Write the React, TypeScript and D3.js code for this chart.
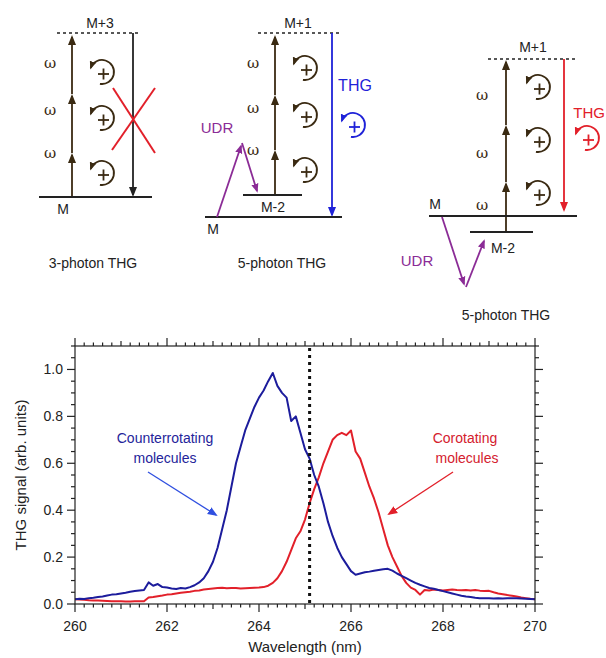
// @ts-nocheck
import React from "react";
import * as d3 from "d3";

// wavelength grid, 0.1 nm steps from 260 to 270
const wavelengths = d3.range(0, 101).map(i => 260 + i / 10);

// counterrotating molecules (blue)
const counterSignal = [
  0.020, 0.022, 0.021, 0.025, 0.027, 0.030, 0.032, 0.036, 0.040, 0.042,
  0.045, 0.048, 0.052, 0.055, 0.058, 0.060, 0.092, 0.078, 0.085, 0.072,
  0.070, 0.066, 0.064, 0.068, 0.066, 0.072, 0.080, 0.092, 0.110, 0.140,
  0.180, 0.240, 0.320, 0.400, 0.500, 0.600, 0.670, 0.740, 0.790, 0.840,
  0.880, 0.910, 0.950, 0.985, 0.930, 0.900, 0.880, 0.780, 0.800, 0.730,
  0.660, 0.620, 0.550, 0.500, 0.430, 0.350, 0.290, 0.240, 0.200, 0.170,
  0.140, 0.125, 0.130, 0.135, 0.138, 0.142, 0.145, 0.148, 0.150, 0.142,
  0.130, 0.120, 0.110, 0.100, 0.090, 0.082, 0.075, 0.068, 0.065, 0.060,
  0.055, 0.050, 0.045, 0.040, 0.035, 0.032, 0.030, 0.027, 0.025, 0.024,
  0.024, 0.023, 0.024, 0.023, 0.024, 0.025, 0.024, 0.023, 0.022, 0.021,
  0.020
];

// corotating molecules (red)
const coSignal = [
  0.020, 0.019, 0.018, 0.016, 0.015, 0.015, 0.014, 0.013, 0.012, 0.012,
  0.012, 0.011, 0.011, 0.012, 0.012, 0.012, 0.028, 0.030, 0.033, 0.036,
  0.040, 0.042, 0.045, 0.048, 0.050, 0.052, 0.056, 0.058, 0.062, 0.064,
  0.066, 0.068, 0.069, 0.067, 0.068, 0.068, 0.066, 0.067, 0.068, 0.069,
  0.070, 0.072, 0.078, 0.090, 0.110, 0.140, 0.180, 0.230, 0.280, 0.310,
  0.360, 0.430, 0.490, 0.540, 0.600, 0.650, 0.700, 0.720, 0.730, 0.720,
  0.740, 0.650, 0.620, 0.560, 0.500, 0.450, 0.390, 0.320, 0.250, 0.200,
  0.160, 0.120, 0.090, 0.070, 0.060, 0.040, 0.060, 0.058, 0.062, 0.060,
  0.058, 0.060, 0.062, 0.060, 0.059, 0.060, 0.058, 0.060, 0.057, 0.055,
  0.056, 0.050, 0.045, 0.042, 0.038, 0.035, 0.032, 0.028, 0.025, 0.022,
  0.020
];

const xMajorTicks = [260, 262, 264, 266, 268, 270];
const yMajorTicks = [0.0, 0.2, 0.4, 0.6, 0.8, 1.0];
const markerWavelength = 265.1;

const FONT = "'Liberation Sans', Arial, Helvetica, sans-serif";
const BLUE = "#1c1c9c";
const RED = "#e2202a";
const BROWN = "#3a2a12";
const PURPLE = "#8b2c96";
const THGBLUE = "#1f22d8";

const width = 606, height = 658;
const margin = { top: 346, right: 71, bottom: 54, left: 75 };

// ---------- energy-level diagram pieces ----------
const CircArrow = ({ cx, cy, color, r = 12, id }) => {
  const a0 = (100 * Math.PI) / 180;
  const a1 = (-160 * Math.PI) / 180;
  const x0 = cx + r * Math.cos(a0), y0 = cy + r * Math.sin(a0);
  const x1 = cx + r * Math.cos(a1), y1 = cy + r * Math.sin(a1);
  return (
    <g>
      <path
        d={`M${x0},${y0} A${r},${r} 0 1 0 ${x1},${y1}`}
        fill="none"
        stroke={color}
        strokeWidth={1.8}
        markerEnd={`url(#${id})`}
      />
      <line x1={cx - 4} x2={cx + 7} y1={cy + 2} y2={cy + 2} stroke={color} strokeWidth={1.8} />
      <line x1={cx + 1.5} x2={cx + 1.5} y1={cy - 3.5} y2={cy + 7.5} stroke={color} strokeWidth={1.8} />
    </g>
  );
};

const Arrow = ({ x1, y1, x2, y2, color, id, w = 1.8 }) => (
  <line x1={x1} y1={y1} x2={x2} y2={y2} stroke={color} strokeWidth={w} markerEnd={`url(#${id})`} />
);

const PhotonLadder = ({ x, y0, tips, labelX, labelYs, circX, circYs }) => {
  const starts = [y0, tips[0], tips[1]];
  return (
    <g>
      {tips.map((t, i) => (
        <Arrow key={i} x1={x} y1={starts[i]} x2={x} y2={t + 2} color={BROWN} id="mBrown" />
      ))}
      {labelYs.map((ly, i) => (
        <text key={"w" + i} x={labelX} y={ly + 5} fontFamily="'DejaVu Serif', serif" fontSize={15} fill={BROWN} textAnchor="middle">ω</text>
      ))}
      {circYs.map((cy, i) => (
        <CircArrow key={"c" + i} cx={circX} cy={cy} color={BROWN} id="mBrownS" />
      ))}
    </g>
  );
};

const label = (x, y, t, opts = {}) => (
  <text x={x} y={y} fontFamily={FONT} fontSize={opts.size || 14} fill={opts.color || "#222"} textAnchor={opts.anchor || "middle"}>
    {t}
  </text>
);

const Diagrams = () => (
  <g>
    {/* 3-photon THG */}
    <line x1={57} x2={138} y1={33} y2={33} stroke="#222" strokeWidth={1.5} strokeDasharray="3,3" />
    {label(100, 28, "M+3")}
    <PhotonLadder x={72} y0={197} tips={[153, 94, 35]} labelX={50} labelYs={[63, 110, 153]} circX={102} circYs={[72, 118, 173]} />
    <Arrow x1={133} y1={33} x2={133} y2={195} color="#222" id="mBlack" />
    <line x1={113} y1={88} x2={155} y2={153} stroke={RED} strokeWidth={2} />
    <line x1={155} y1={88} x2={112} y2={150} stroke={RED} strokeWidth={2} />
    <line x1={39} x2={152} y1={197} y2={197} stroke="#222" strokeWidth={2} />
    {label(63, 214, "M")}
    {label(93, 268, "3-photon THG")}

    {/* 5-photon THG (middle) */}
    <line x1={258} x2={342} y1={33} y2={33} stroke="#222" strokeWidth={1.5} strokeDasharray="3,3" />
    {label(298, 28, "M+1")}
    <PhotonLadder x={275} y0={195} tips={[150, 95, 35]} labelX={253} labelYs={[63, 108, 150]} circX={305} circYs={[68, 115, 170]} />
    <Arrow x1={332} y1={33} x2={332} y2={215} color={THGBLUE} id="mBlue" />
    {label(355, 91, "THG", { color: THGBLUE, size: 16 })}
    <CircArrow cx={353} cy={125} color={THGBLUE} id="mBlueS" />
    <line x1={243} x2={302} y1={195} y2={195} stroke="#222" strokeWidth={2} />
    {label(273, 212, "M-2")}
    <line x1={205} x2={342} y1={217} y2={217} stroke="#222" strokeWidth={2} />
    {label(213, 234, "M")}
    <Arrow x1={217} y1={217} x2={241} y2={146} color={PURPLE} id="mPurple" />
    <Arrow x1={242} y1={143} x2={257} y2={191} color={PURPLE} id="mPurple" />
    {label(217, 133, "UDR", { color: PURPLE, size: 15 })}
    {label(282, 268, "5-photon THG")}

    {/* 5-photon THG (right) */}
    <line x1={488} x2={578} y1={59} y2={59} stroke="#222" strokeWidth={1.5} strokeDasharray="3,3" />
    {label(533, 52, "M+1")}
    <PhotonLadder x={506} y0={232} tips={[182, 125, 60]} labelX={482} labelYs={[205, 153, 95]} circX={538} circYs={[87, 140, 193]} />
    <Arrow x1={564} y1={59} x2={564} y2={210} color={RED} id="mRed" />
    {label(605, 118, "THG", { color: RED, size: 15, anchor: "end" })}
    <CircArrow cx={587} cy={138} color={RED} id="mRedS" />
    <line x1={429} x2={577} y1={216} y2={216} stroke="#222" strokeWidth={2} />
    {label(435, 209, "M")}
    <line x1={470} x2={533} y1={232} y2={232} stroke="#222" strokeWidth={2} />
    {label(503, 253, "M-2")}
    <Arrow x1={442} y1={217} x2={464} y2={284} color={PURPLE} id="mPurple" />
    <Arrow x1={466} y1={287} x2={484} y2={241} color={PURPLE} id="mPurple" />
    {label(417, 266, "UDR", { color: PURPLE, size: 15 })}
    {label(506, 320, "5-photon THG")}
  </g>
);

const markerDefs = [
  ["mBrown", BROWN, 10],
  ["mBrownS", BROWN, 8],
  ["mBlack", "#222", 10],
  ["mBlue", THGBLUE, 10],
  ["mBlueS", THGBLUE, 8],
  ["mRed", RED, 10],
  ["mRedS", RED, 8],
  ["mPurple", PURPLE, 9],
  ["mArrowBlue", "#2f4fe0", 10],
  ["mArrowRed", RED, 10],
];

// ---------- spectrum chart ----------
const Spectrum = () => {
  const x = d3.scaleLinear().domain([260, 270]).range([margin.left, width - margin.right]);
  const y = d3.scaleLinear().domain([0, 1.1]).range([height - margin.bottom, margin.top]);
  const x0 = x.range()[0], x1 = x.range()[1];
  const yb = y.range()[0], yt = y.range()[1];

  const line = d3
    .line()
    .x((d, i) => x(wavelengths[i]))
    .y(d => y(d));

  const xMinor = d3.range(0, 51).map(i => 260 + i * 0.2);
  const yMinor = d3.range(0, 23).map(i => i * 0.05);
  const xLen = v => (Math.abs(v % 2) < 1e-6 ? 8 : Math.abs(Math.round(v) - v) < 1e-6 ? 5 : 3.5);
  const yLen = v => (Math.abs((v * 5) - Math.round(v * 5)) < 1e-6 ? 8 : 4);

  return (
    <g fontFamily={FONT}>
      <path d={line(coSignal)} fill="none" stroke={RED} strokeWidth={2} strokeLinejoin="round" />
      <path d={line(counterSignal)} fill="none" stroke={BLUE} strokeWidth={2} strokeLinejoin="round" />
      <line x1={x(markerWavelength)} x2={x(markerWavelength)} y1={yt + 2} y2={yb} stroke="#111" strokeWidth={3} strokeDasharray="3,4" />

      {/* frame */}
      <rect x={x0} y={yt} width={x1 - x0} height={yb - yt} fill="none" stroke="#222" strokeWidth={1.2} />

      {xMinor.map((v, i) => (
        <g key={"xt" + i} stroke="#222" strokeWidth={1.2}>
          <line x1={x(v)} x2={x(v)} y1={yb} y2={yb + xLen(v)} />
          <line x1={x(v)} x2={x(v)} y1={yt} y2={yt - xLen(v)} />
        </g>
      ))}
      {yMinor.map((v, i) => (
        <g key={"yt" + i} stroke="#222" strokeWidth={1.2}>
          <line x1={x0} x2={x0 - yLen(v)} y1={y(v)} y2={y(v)} />
          <line x1={x1} x2={x1 + yLen(v)} y1={y(v)} y2={y(v)} />
        </g>
      ))}
      {xMajorTicks.map(v => (
        <text key={"xl" + v} x={x(v)} y={yb + 27} fontSize={14} textAnchor="middle" fill="#222">{v}</text>
      ))}
      {yMajorTicks.map(v => (
        <text key={"yl" + v} x={x0 - 12} y={y(v) + 5} fontSize={14} textAnchor="end" fill="#222">{v.toFixed(1)}</text>
      ))}
      <text x={(x0 + x1) / 2} y={652} fontSize={15} textAnchor="middle" fill="#222">Wavelength (nm)</text>
      <text transform={`translate(26,${(yt + yb) / 2}) rotate(-90)`} fontSize={15} textAnchor="middle" fill="#222">
        THG signal (arb. units)
      </text>

      {/* annotations */}
      <text x={165} y={443} fontSize={14} textAnchor="middle" fill="#24249a">Counterrotating</text>
      <text x={165} y={463} fontSize={14} textAnchor="middle" fill="#24249a">molecules</text>
      <Arrow x1={148} y1={472} x2={216} y2={515} color="#2f4fe0" id="mArrowBlue" w={1.3} />
      <text x={465} y={443} fontSize={14} textAnchor="middle" fill="#d4202e">Corotating</text>
      <text x={467} y={463} fontSize={14} textAnchor="middle" fill="#d4202e">molecules</text>
      <Arrow x1={453} y1={472} x2={389} y2={514} color={RED} id="mArrowRed" w={1.3} />
    </g>
  );
};

export default function App() {
  return (
    <svg width={width} height={height} style={{ position: "absolute", left: 0, top: 0, background: "#fff" }}>
      <defs>
        {markerDefs.map(([id, c, s]) => (
          <marker key={id} id={id} viewBox="0 0 10 10" refX={8} refY={5} markerUnits="userSpaceOnUse" markerWidth={s} markerHeight={s} orient="auto">
            <path d="M0,1 L10,5 L0,9 Z" fill={c} />
          </marker>
        ))}
      </defs>
      <Diagrams />
      <Spectrum />
    </svg>
  );
}
